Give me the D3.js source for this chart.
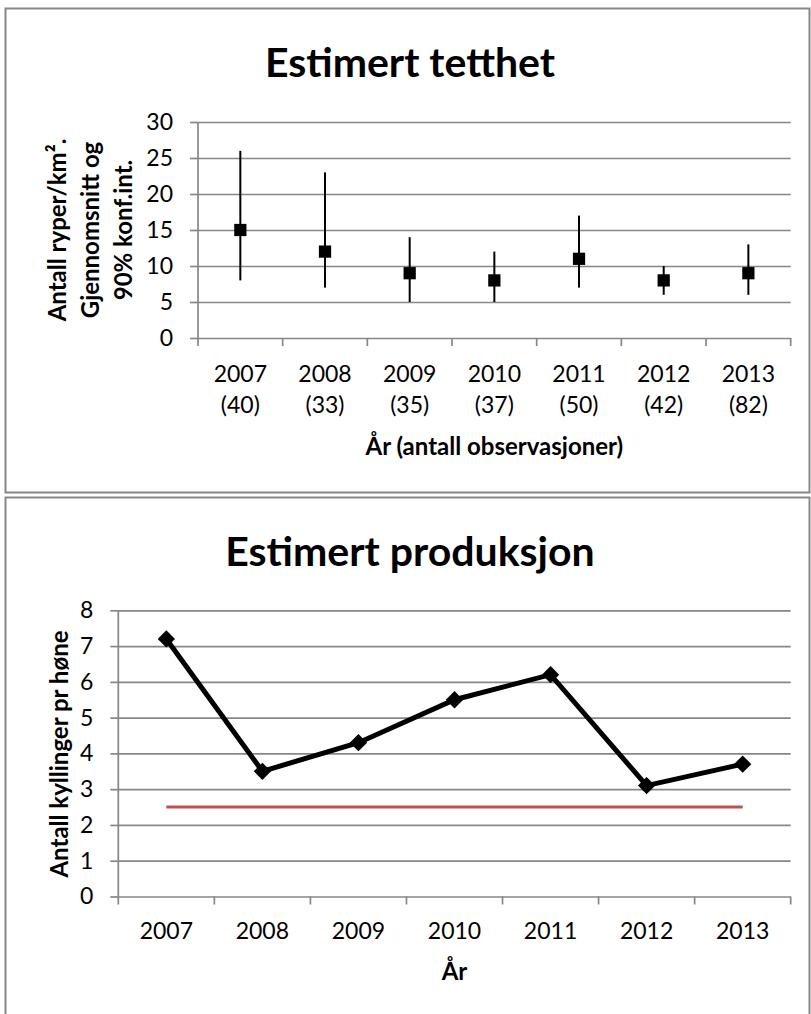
<!DOCTYPE html>
<html>
<head>
<meta charset="utf-8">
<script src="https://d3js.org/d3.v7.min.js"></script>
<style>
  body { margin: 0; background: #fff; }
  text { font-family: Lato, Carlito, Calibri, sans-serif; fill: #000; }
  .grid line, .grid path { stroke: #878787; stroke-width: 1.7; }
</style>
</head>
<body>
<div id="chart"></div>
<script>
// data
var years = ["2007", "2008", "2009", "2010", "2011", "2012", "2013"];
var obsCounts = ["(40)", "(33)", "(35)", "(37)", "(50)", "(42)", "(82)"];
var density = [15, 12, 9, 8, 11, 8, 9];
var densityLow = [8, 7, 5, 5, 7, 6, 6];
var densityHigh = [26, 23, 14, 12, 17, 10, 13];
var densityTicks = [0, 5, 10, 15, 20, 25, 30];
var production = [7.2, 3.5, 4.3, 5.5, 6.2, 3.1, 3.7];
var threshold = [2.5, 2.5, 2.5, 2.5, 2.5, 2.5, 2.5];
var productionTicks = [0, 1, 2, 3, 4, 5, 6, 7, 8];

var W = 811, H = 1014;
var grey = "#878787";

var svg = d3.select("#chart").append("svg")
  .attr("width", W)
  .attr("height", H);

// panel frames
svg.append("rect").attr("x", 5.5).attr("y", 8.5).attr("width", 804).attr("height", 484)
  .attr("fill", "none").attr("stroke", grey).attr("stroke-width", 2);
svg.append("rect").attr("x", 5.5).attr("y", 497.5).attr("width", 804).attr("height", 540)
  .attr("fill", "none").attr("stroke", grey).attr("stroke-width", 2);

// draws gridlines, y ticks and the boundary ticks along the x axis
function drawFrame(g, x, y, ticks) {
  var x0 = x.range()[0], x1 = x.range()[1];
  g.append("g")
    .attr("class", "grid")
    .attr("transform", "translate(" + x0 + ",0)")
    .call(d3.axisLeft(y).tickValues(ticks).tickSizeInner(-(x1 - x0)).tickSizeOuter(0).tickFormat(""))
    .call(function(s) { s.select(".domain").remove(); });
  var ax = g.append("g")
    .attr("class", "grid")
    .attr("transform", "translate(" + x0 + ",0)")
    .call(d3.axisLeft(y).tickValues(ticks).tickSize(8).tickPadding(17));
  ax.selectAll("text").attr("font-size", 23).style("font-family", "Lato, Carlito, Calibri, sans-serif");
  ax.select(".domain").remove();
  // vertical axis line
  g.append("line").attr("x1", x0).attr("x2", x0)
    .attr("y1", y(y.domain()[0])).attr("y2", y(y.domain()[1]))
    .attr("stroke", grey).attr("stroke-width", 1.7);
  // boundary ticks under the x axis
  var edges = years.map(function(d) { return x(d); }).concat([x1]);
  g.selectAll(".xtick").data(edges).enter().append("line")
    .attr("x1", function(d) { return d; }).attr("x2", function(d) { return d; })
    .attr("y1", y(0)).attr("y2", y(0) + 8)
    .attr("stroke", grey).attr("stroke-width", 1.7);
}

// ---------- top: Estimert tetthet ----------
var topG = svg.append("g");
var xT = d3.scaleBand().domain(years).range([198, 790.7]);
var yT = d3.scaleLinear().domain([0, 30]).range([338, 122]);

topG.append("text").attr("x", 410).attr("y", 77).attr("text-anchor", "middle")
  .attr("font-size", 41).attr("font-weight", "bold").text("Estimert tetthet");

drawFrame(topG, xT, yT, densityTicks);

var ttl = ["Antall ryper/km\u00b2.", "Gjennomsnitt og", "90% konf.int."];
topG.selectAll(".ytitle").data(ttl).enter().append("text")
  .attr("transform", function(d, i) { return "translate(" + (66 + i * 33) + ",230) rotate(-90)"; })
  .attr("text-anchor", "middle").attr("font-size", 24).attr("font-weight", "bold")
  .text(function(d) { return d; });

var cT = function(d) { return xT(d) + xT.bandwidth() / 2; };

topG.selectAll(".err").data(years).enter().append("line")
  .attr("x1", cT).attr("x2", cT)
  .attr("y1", function(d, i) { return yT(densityLow[i]); })
  .attr("y2", function(d, i) { return yT(densityHigh[i]); })
  .attr("stroke", "#000").attr("stroke-width", 2);

topG.selectAll(".mark").data(years).enter().append("path")
  .attr("d", d3.symbol().type(d3.symbolSquare).size(150))
  .attr("transform", function(d, i) { return "translate(" + cT(d) + "," + yT(density[i]) + ")"; })
  .attr("fill", "#000");

topG.selectAll(".yr").data(years).enter().append("text")
  .attr("x", cT).attr("y", 382).attr("text-anchor", "middle").attr("font-size", 23)
  .text(function(d) { return d; });
topG.selectAll(".cnt").data(obsCounts).enter().append("text")
  .attr("x", function(d, i) { return cT(years[i]); }).attr("y", 413)
  .attr("text-anchor", "middle").attr("font-size", 23)
  .text(function(d) { return d; });

topG.append("text").attr("x", (198 + 790.7) / 2).attr("y", 455).attr("text-anchor", "middle")
  .attr("font-size", 24).attr("font-weight", "bold").text("År (antall observasjoner)");

// ---------- bottom: Estimert produksjon ----------
var botG = svg.append("g");
var xB = d3.scaleBand().domain(years).range([118.3, 790.7]);
var yB = d3.scaleLinear().domain([0, 8]).range([896.5, 610.3]);

botG.append("text").attr("x", 410).attr("y", 566).attr("text-anchor", "middle")
  .attr("font-size", 41).attr("font-weight", "bold").text("Estimert produksjon");

drawFrame(botG, xB, yB, productionTicks);

botG.append("text").attr("transform", "translate(68,754) rotate(-90)")
  .attr("text-anchor", "middle").attr("font-size", 24).attr("font-weight", "bold")
  .text("Antall kyllinger pr høne");

var cB = function(d) { return xB(d) + xB.bandwidth() / 2; };

botG.append("path").datum(threshold)
  .attr("d", d3.line().x(function(d, i) { return cB(years[i]); }).y(function(d) { return yB(d); }))
  .attr("fill", "none").attr("stroke", "#C0504D").attr("stroke-width", 3);

botG.append("path").datum(production)
  .attr("d", d3.line().x(function(d, i) { return cB(years[i]); }).y(function(d) { return yB(d); }))
  .attr("fill", "none").attr("stroke", "#000").attr("stroke-width", 5).attr("stroke-linejoin", "miter");

botG.selectAll(".dia").data(production).enter().append("path")
  .attr("d", d3.symbol().type(d3.symbolSquare).size(150))
  .attr("transform", function(d, i) { return "translate(" + cB(years[i]) + "," + yB(d) + ") rotate(45)"; })
  .attr("fill", "#000");

botG.selectAll(".yr").data(years).enter().append("text")
  .attr("x", cB).attr("y", 939).attr("text-anchor", "middle").attr("font-size", 23)
  .text(function(d) { return d; });

botG.append("text").attr("x", (118.3 + 790.7) / 2).attr("y", 980).attr("text-anchor", "middle")
  .attr("font-size", 24).attr("font-weight", "bold").text("År");
</script>
</body>
</html>
